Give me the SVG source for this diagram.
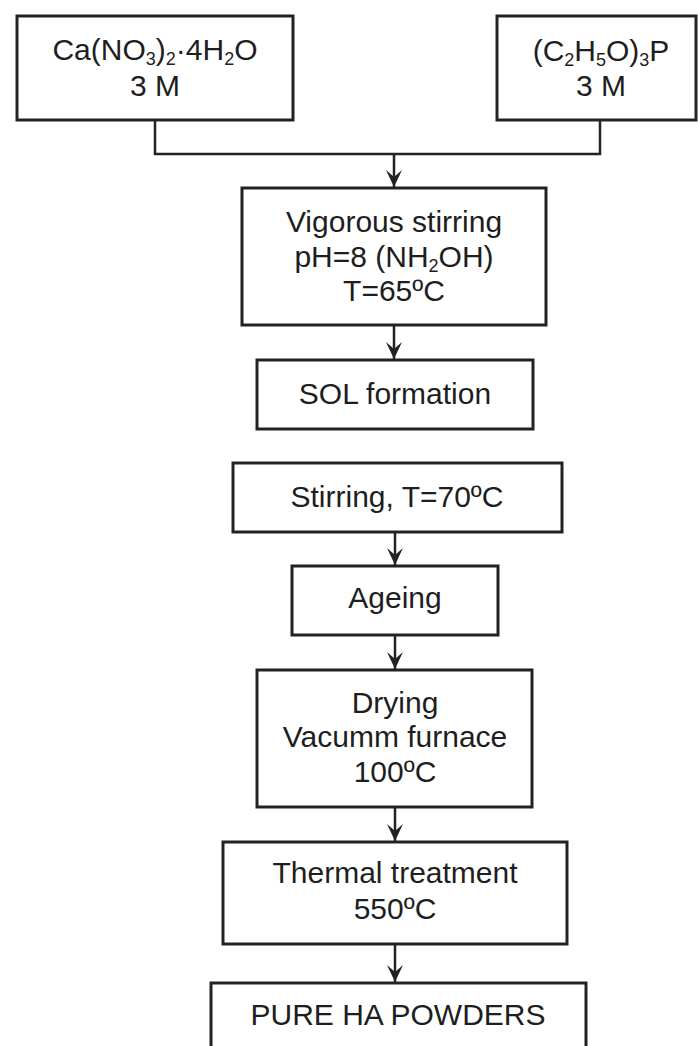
<svg xmlns="http://www.w3.org/2000/svg" width="698" height="1046" viewBox="0 0 698 1046">
<defs>
<style>
.box{fill:#fff;stroke:#222;stroke-width:3}
.ln{fill:none;stroke:#222;stroke-width:2.5}
text{font-family:"Liberation Sans",Arial,sans-serif;font-size:30px;fill:#1e1e1e;text-anchor:middle}
.sub{font-size:18px}
</style>
<marker id="ah" markerUnits="userSpaceOnUse" markerWidth="20" markerHeight="20" viewBox="-18 -10 20 20" refX="0" refY="0" orient="auto">
<path d="M0,0 L-17,-8 L-10,0 L-17,8 Z" fill="#222"/>
</marker>
</defs>
<rect width="698" height="1046" fill="#fff"/>
<g id="connectors">
<path class="ln" d="M155,120 V154 H600 V120"/>
<path class="ln" d="M394,154 V187" marker-end="url(#ah)"/>
<path class="ln" d="M394,325 V359" marker-end="url(#ah)"/>
<path class="ln" d="M395,532 V565" marker-end="url(#ah)"/>
<path class="ln" d="M395,635 V669" marker-end="url(#ah)"/>
<path class="ln" d="M395,807 V841" marker-end="url(#ah)"/>
<path class="ln" d="M395,944 V982" marker-end="url(#ah)"/>
</g>
<g id="n1">
<rect class="box" x="17" y="16" width="276" height="104"/>
<text x="155" y="60">Ca(NO<tspan class="sub" dy="5">3</tspan><tspan dy="-5">)</tspan><tspan class="sub" dy="5">2</tspan><tspan dy="-5">·4H</tspan><tspan class="sub" dy="5">2</tspan><tspan dy="-5">O</tspan></text>
<text x="155" y="96">3 M</text>
</g>
<g id="n2">
<rect class="box" x="497" y="16" width="199" height="104"/>
<text x="601" y="61">(C<tspan class="sub" dy="5">2</tspan><tspan dy="-5">H</tspan><tspan class="sub" dy="5">5</tspan><tspan dy="-5">O)</tspan><tspan class="sub" dy="5">3</tspan><tspan dy="-5">P</tspan></text>
<text x="601" y="96">3 M</text>
</g>
<g id="n3">
<rect class="box" x="242" y="188" width="304" height="137"/>
<text x="394" y="232">Vigorous stirring</text>
<text x="394" y="267">pH=8 (NH<tspan class="sub" dy="5">2</tspan><tspan dy="-5">OH)</tspan></text>
<text x="394" y="301">T=65ºC</text>
</g>
<g id="n4">
<rect class="box" x="257" y="360" width="276" height="69"/>
<text x="395" y="404">SOL formation</text>
</g>
<g id="n5">
<rect class="box" x="233" y="463" width="329" height="69"/>
<text x="397" y="507">Stirring, T=70ºC</text>
</g>
<g id="n6">
<rect class="box" x="292" y="566" width="206" height="69"/>
<text x="395" y="608">Ageing</text>
</g>
<g id="n7">
<rect class="box" x="257" y="670" width="275" height="137"/>
<text x="395" y="713">Drying</text>
<text x="395" y="747">Vacumm furnace</text>
<text x="395" y="782">100ºC</text>
</g>
<g id="n8">
<rect class="box" x="223" y="842" width="344" height="102"/>
<text x="395" y="883">Thermal treatment</text>
<text x="395" y="919">550ºC</text>
</g>
<g id="n9">
<rect class="box" x="211" y="983" width="375" height="80"/>
<text x="398" y="1025">PURE HA POWDERS</text>
</g>
</svg>
